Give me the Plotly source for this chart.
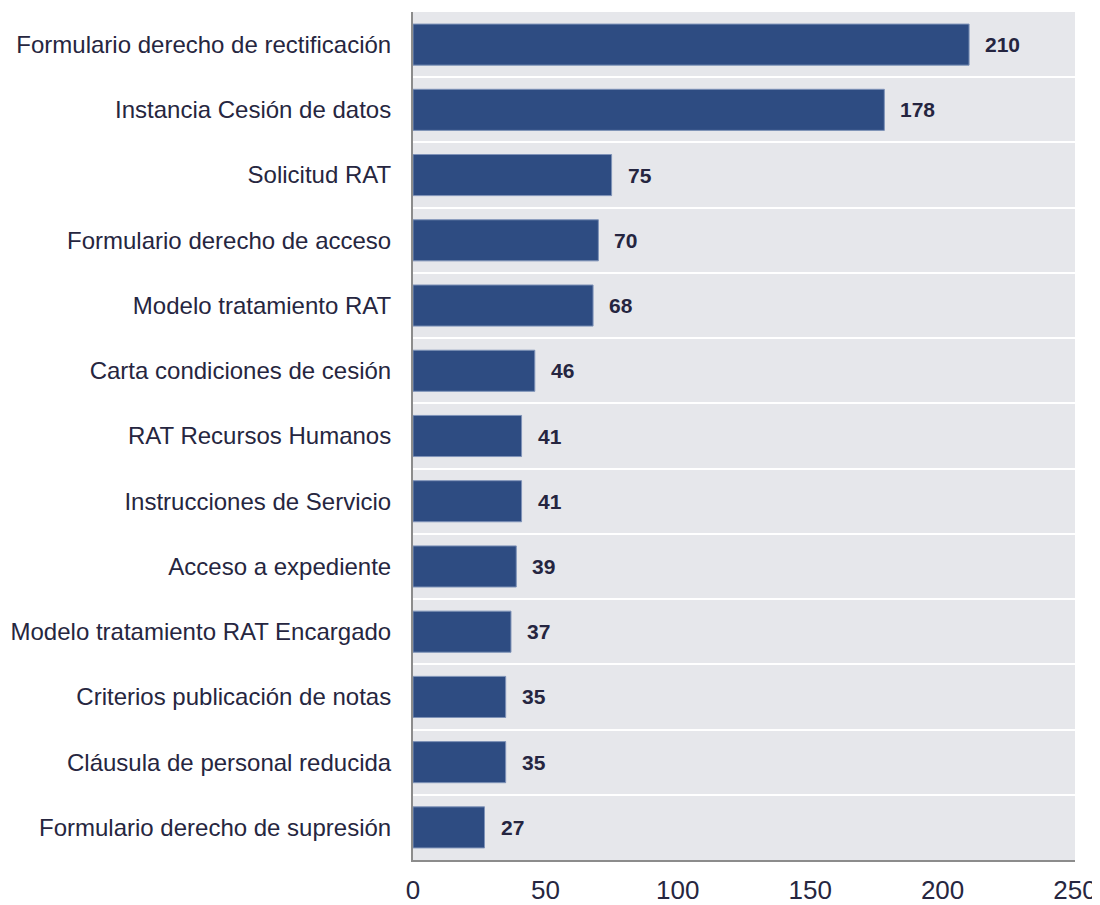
import plotly.graph_objects as go

categories = [
    "Formulario derecho de rectificación",
    "Instancia Cesión de datos",
    "Solicitud RAT",
    "Formulario derecho de acceso",
    "Modelo tratamiento RAT",
    "Carta condiciones de cesión",
    "RAT Recursos Humanos",
    "Instrucciones de Servicio",
    "Acceso a expediente",
    "Modelo tratamiento RAT Encargado",
    "Criterios publicación de notas",
    "Cláusula de personal reducida",
    "Formulario derecho de supresión",
]
values = [210, 178, 75, 70, 68, 46, 41, 41, 39, 37, 35, 35, 27]
x_ticks = [0, 50, 100, 150, 200, 250]

positions = list(range(len(categories)))

fig = go.Figure()
fig.add_trace(go.Bar(
    x=values,
    y=positions,
    orientation="h",
    marker=dict(color="#2E4C82", line=dict(color="#7F93B8", width=1)),
    width=0.63,
    hoverinfo="x+y",
))

# value labels just right of each bar
for v, p in zip(values, positions):
    fig.add_annotation(
        x=v, y=p, text=f"<b>{v}</b>", showarrow=False,
        xanchor="left", xshift=14,
        font=dict(family="Liberation Sans, Arial", size=21, color="#252540"),
    )

# page body has an 8px margin: figure fills the rest of the window
fig.update_layout(
    width=1092, height=897,
    margin=dict(l=405, r=25, t=4, b=45),
    paper_bgcolor="white",
    plot_bgcolor="#E6E7EB",
    showlegend=False,
    font=dict(family="Liberation Sans, Arial", size=24, color="#262640"),
    bargap=0.37,
)

fig.update_xaxes(
    range=[0, 250],
    tickvals=x_ticks,
    showgrid=False,
    zeroline=False,
    automargin=False,
    ticklabeloverflow="allow",
    showline=True, linecolor="#8C8C8C", linewidth=2,
    ticks="outside", ticklen=6, tickcolor="rgba(0,0,0,0)",
    tickfont=dict(size=26, color="#262640"),
)

fig.update_yaxes(
    range=[len(categories) - 0.5, -0.5],
    tickvals=positions,
    ticktext=categories,
    showgrid=False,
    zeroline=False,
    automargin=False,
    showline=True, linecolor="#8C8C8C", linewidth=2,
    ticks="outside", ticklen=15, tickcolor="rgba(0,0,0,0)",
    minor=dict(tick0=0.5, dtick=1, showgrid=True, gridcolor="white", gridwidth=2, ticks=""),
)

fig.write_html("out.html")
